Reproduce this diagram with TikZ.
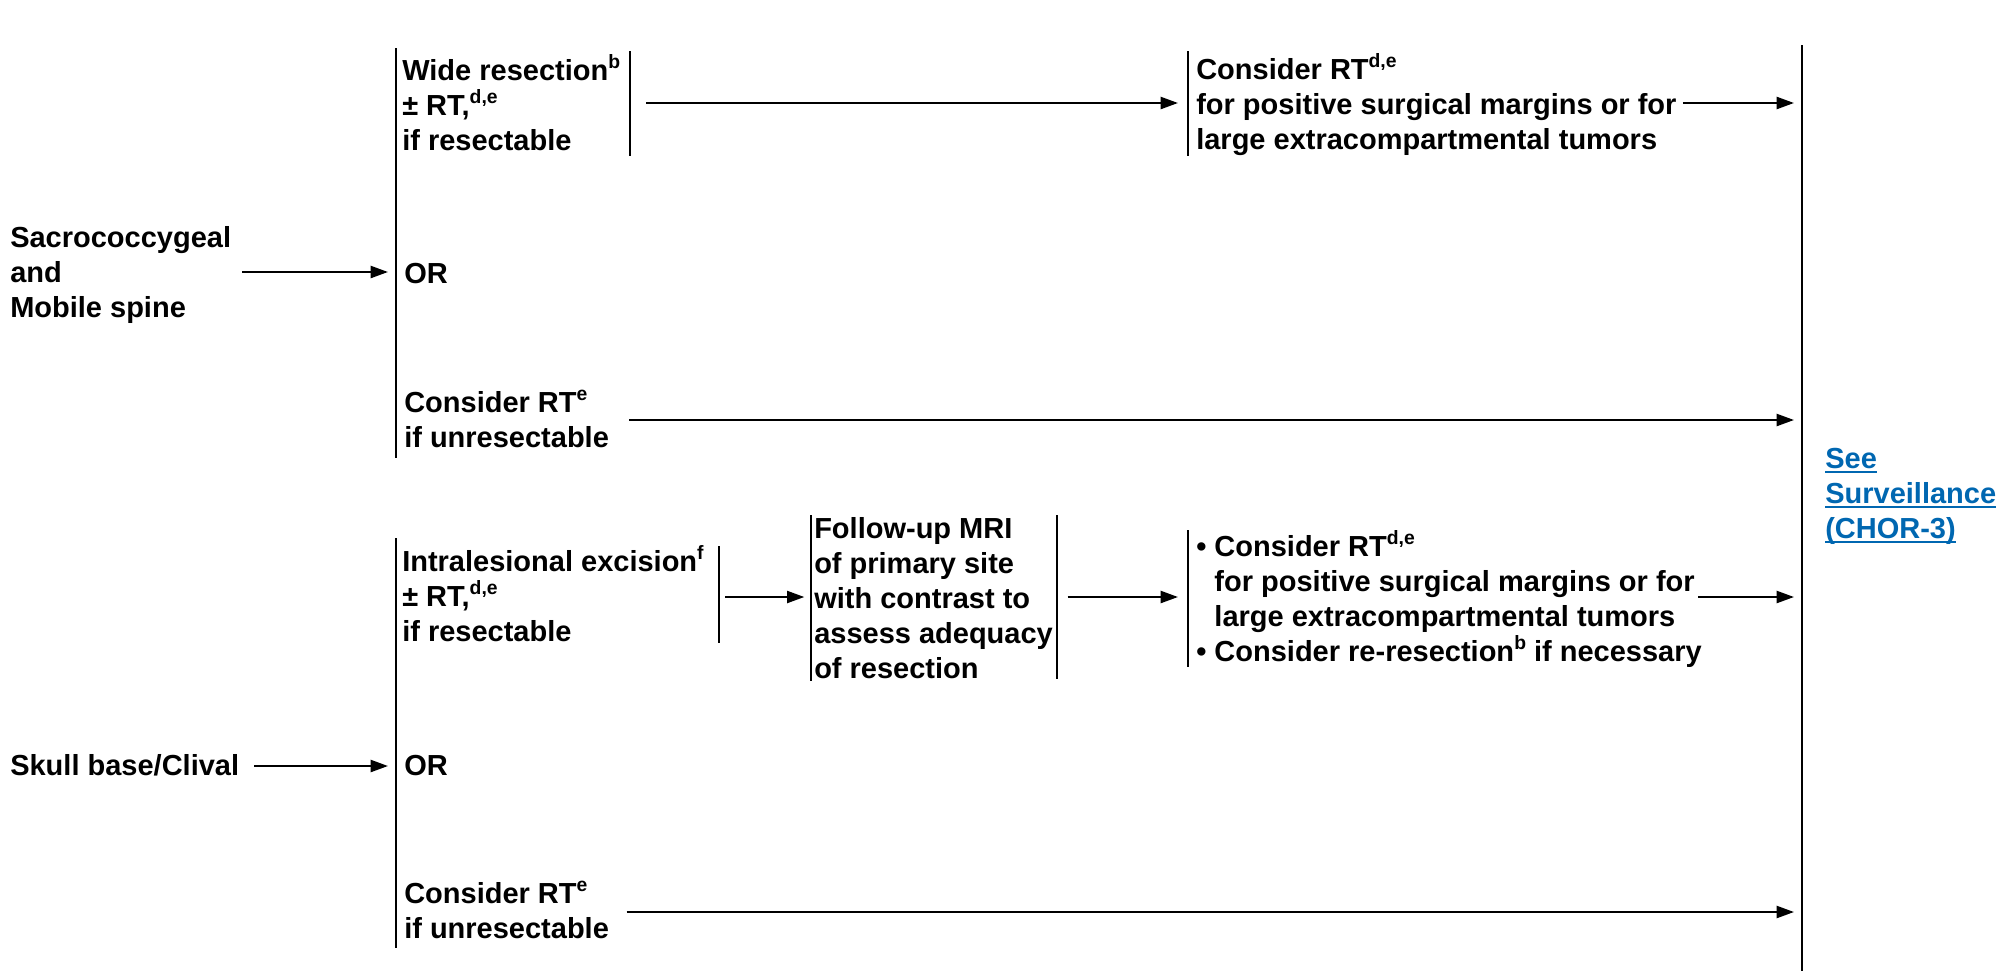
\documentclass[tikz,border=0pt]{standalone}
\usepackage{fontspec}
\setmainfont{Liberation Sans}
\usetikzlibrary{arrows.meta,calc}
\definecolor{linkblue}{RGB}{0,103,177}
\newcommand{\sps}[1]{\smash{\raisebox{8.5pt}{\fontsize{14.5}{14.5}\selectfont #1}}}
\newcommand{\lnk}[1]{\leavevmode\setbox0\hbox{#1}\rlap{\rule[-4pt]{\wd0}{1.5pt}}\box0}
\begin{document}
\begin{tikzpicture}[x=0.75pt,y=-0.75pt,
  txt/.style={inner sep=0pt, anchor=base west, font=\fontsize{21.75}{26.25}\selectfont\bfseries},
  bar/.style={line width=1.8pt},
  arr/.style={line width=1.7pt, -{Triangle[length=13pt,width=9pt]}}]
\useasboundingbox (0,0) rectangle (2001,971);

% main right bar
\coordinate (mainT) at (1802,45);
\coordinate (mainB) at (1802,971);
\draw[bar] (mainT) -- (mainB);

% ---------- top group ----------
\node[txt] (sacro) at (10,247) {\begin{tabular}[t]{@{}l@{}}Sacrococcygeal\\and\\Mobile spine\end{tabular}};
\coordinate (gAT) at (396,48); \coordinate (gAB) at (396,458);
\draw[bar] (gAT) -- (gAB);

\node[txt] (wide) at (402,80) {\begin{tabular}[t]{@{}l@{}}Wide resection\sps{b}\\± RT,\sps{d,e}\\if resectable\end{tabular}};
\coordinate (wRT) at (630,51); \coordinate (wRB) at (630,156);
\draw[bar] (wRT) -- (wRB);

\coordinate (rLT) at (1188,51); \coordinate (rLB) at (1188,156);
\draw[bar] (rLT) -- (rLB);
\node[txt] (rtA) at (1196,79) {\begin{tabular}[t]{@{}l@{}}Consider RT\sps{d,e}\\for positive surgical margins or for\\large extracompartmental tumors\end{tabular}};

\node[txt] (orA) at (404,283) {OR};
\node[txt] (unresA) at (404,412) {\begin{tabular}[t]{@{}l@{}}Consider RT\sps{e}\\if unresectable\end{tabular}};

\draw[arr, shorten <=8pt, shorten >=6pt] (sacro.east |- 0,272) -- (gAT |- 0,272);
\draw[arr, shorten <=12pt, shorten >=7.5pt] (wRT |- 0,103) -- (rLT |- 0,103);
\draw[arr, shorten <=4.5pt, shorten >=6pt] (rtA.east |- 0,103) -- (mainT |- 0,103);
\draw[arr, shorten <=15pt, shorten >=6pt] (unresA.east |- 0,420) -- (mainT |- 0,420);

% ---------- bottom group ----------
\node[txt] (skull) at (10,775) {Skull base/Clival};
\coordinate (gBT) at (396,538); \coordinate (gBB) at (396,948);
\draw[bar] (gBT) -- (gBB);

\node[txt] (intra) at (402,571) {\begin{tabular}[t]{@{}l@{}}Intralesional excision\sps{f}\\± RT,\sps{d,e}\\if resectable\end{tabular}};
\coordinate (iRT) at (719,546); \coordinate (iRB) at (719,643);
\draw[bar] (iRT) -- (iRB);

\coordinate (mLT) at (811,515); \coordinate (mLB) at (811,681);
\coordinate (mRT) at (1057,515); \coordinate (mRB) at (1057,679);
\draw[bar] (mLT) -- (mLB);
\draw[bar] (mRT) -- (mRB);
\node[txt] (mri) at (814,538) {\begin{tabular}[t]{@{}l@{}}Follow-up MRI\\of primary site\\with contrast to\\assess adequacy\\of resection\end{tabular}};

\coordinate (bLT) at (1188,530); \coordinate (bLB) at (1188,667);
\draw[bar] (bLT) -- (bLB);
\node[txt] (bullets) at (1196,556) {\begin{tabular}[t]{@{}l@{}}• Consider RT\sps{d,e}\\\hphantom{• }for positive surgical margins or for\\\hphantom{• }large extracompartmental tumors\\• Consider re-resection\sps{b} if necessary\end{tabular}};

\node[txt] (orB) at (404,775) {OR};
\node[txt] (unresB) at (404,903) {\begin{tabular}[t]{@{}l@{}}Consider RT\sps{e}\\if unresectable\end{tabular}};

\draw[arr, shorten <=11pt, shorten >=6pt] (skull.east |- 0,766) -- (gBT |- 0,766);
\draw[arr, shorten <=4.5pt, shorten >=5pt] (iRT |- 0,597) -- (mLT |- 0,597);
\draw[arr, shorten <=8pt, shorten >=7.5pt] (mRT |- 0,597) -- (bLT |- 0,597);
\draw[arr, shorten <=-3pt, shorten >=6pt] (bullets.east |- 0,597) -- (mainT |- 0,597);
\draw[arr, shorten <=13pt, shorten >=6pt] (unresB.east |- 0,912) -- (mainT |- 0,912);

% ---------- link ----------
\node[txt, text=linkblue] (surv) at (1825,468) {\begin{tabular}[t]{@{}l@{}}\lnk{See}\\\lnk{Surveillance}\\\lnk{(CHOR-3)}\end{tabular}};
\end{tikzpicture}
\end{document}
